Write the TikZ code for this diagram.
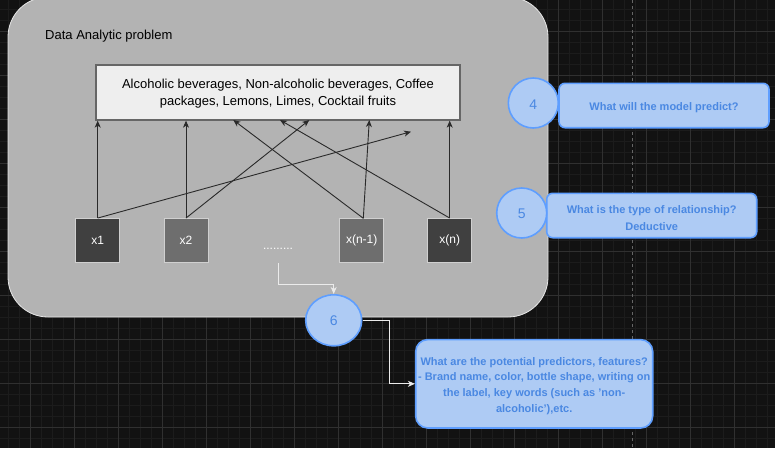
\documentclass[tikz,border=0pt]{standalone}
\usepackage{fontspec}
\setmainfont{Liberation Sans}
\usetikzlibrary{arrows.meta,shapes.geometric}
\definecolor{bgc}{HTML}{121212}
\definecolor{minorc}{HTML}{1C1C1C}
\definecolor{majorc}{HTML}{303030}
\definecolor{contfill}{HTML}{B3B3B3}
\definecolor{contline}{HTML}{E6E6E6}
\definecolor{boxfill}{HTML}{EEEEEE}
\definecolor{boxline}{HTML}{666666}
\definecolor{darkin}{HTML}{404040}
\definecolor{midin}{HTML}{6E6E6E}
\definecolor{inline}{HTML}{D0D0D0}
\definecolor{bluefill}{HTML}{AECBF4}
\definecolor{blueline}{HTML}{5E9EFF}
\definecolor{bluetext}{HTML}{4A88E2}
\definecolor{arrowc}{HTML}{2A2A2A}
\newcommand{\topstrut}[1]{\rule{0pt}{#1}}
\begin{document}
\begin{tikzpicture}[x=1pt,y=-1pt,
  minorline/.style={draw=minorc,line width=0.8pt},
  majorline/.style={draw=majorc,line width=0.9pt},
  container/.style={draw=contline,fill=contfill,line width=0.8pt,rounded corners=40pt,inner sep=0pt},
  titletext/.style={font=\fontsize{13pt}{15pt}\selectfont,text=black,inner sep=0pt},
  targetbox/.style={draw=boxline,fill=boxfill,line width=1.3pt,inner sep=0pt,align=center,
    font=\fontsize{13pt}{17pt}\selectfont,text=black},
  inbox/.style={draw=inline,line width=0.9pt,minimum width=44pt,minimum height=44pt,inner sep=0pt,
    text=white,font=\fontsize{12pt}{14pt}\selectfont},
  link/.style={draw=arrowc,line width=0.9pt,-{Stealth[length=7pt,width=6pt,inset=2pt]}},
  wlink/.style={draw=white!92!black,line width=1pt,-{Stealth[length=7pt,width=6pt,inset=2pt]}},
  numc/.style={draw=blueline,fill=bluefill,line width=1.6pt,inner sep=0pt,text=bluetext,
    font=\fontsize{14pt}{16pt}\selectfont},
  qbox/.style={draw=blueline,fill=bluefill,line width=1.6pt,rounded corners=6pt,inner sep=0pt,
    align=center,text=bluetext,font=\bfseries\fontsize{11pt}{16.6pt}\selectfont}
]
\useasboundingbox (0,0) rectangle (775,448);
\fill[bgc] (0,0) rectangle (775,448);
% grid
\foreach \i in {-1,...,70} {\draw[minorline] ({8.7+11*\i},0) -- ({8.7+11*\i},448);}
\foreach \j in {-1,...,40} {\draw[minorline] (0,{9+11*\j}) -- (775,{9+11*\j});}
\foreach \i in {0,...,16} {\draw[majorline] ({30.7+44*\i},0) -- ({30.7+44*\i},448);}
\foreach \j in {0,...,9} {\draw[majorline] (0,{31+44*\j}) -- (775,{31+44*\j});}
\draw[draw=white!40!black,line width=0.8pt,dash pattern=on 3pt off 3pt] (632.7,0) -- (632.7,448);

% container
\node[container,minimum width=540pt,minimum height=320pt] (cont) at (278,157) {};
\node[titletext,anchor=west] (title) at (45,36.5) {Data Analytic problem};

% target box
\node[targetbox,minimum width=364pt,minimum height=55pt] (target) at (278,92.5)
  {\topstrut{12.5pt}Alcoholic beverages, Non-alcoholic beverages, Coffee\\packages, Lemons, Limes, Cocktail fruits};

% inputs
\node[inbox,fill=darkin] (x1) at (97.7,240.5) {x1};
\node[inbox,fill=midin] (x2) at (186,240.5) {x2};
\node[inbox,fill=midin] (xn1) at (361.7,240.5) {x(n-1)};
\node[inbox,fill=darkin] (xn) at (449.7,240.5) {x(n)};
\node[anchor=base,inner sep=0pt,text=white,font=\fontsize{12pt}{14pt}\selectfont] (dots) at (278,249) {.........};

% target points
\coordinate (t1) at (411,131.7);
\coordinate (t2) at (309.3,120);
\coordinate (t3) at (233.3,120);
\coordinate (t4) at (369.3,120);
\coordinate (t5) at (280,120);
\coordinate (xs) at (363.3,218.3);

\draw[link] (x1.north) -- (x1.north |- target.south);
\draw[link] (x1.north) -- (t1);
\draw[link] (x2.north) -- (x2.north |- target.south);
\draw[link] (x2.north) -- (t2);
\draw[link] (xs) -- (t3);
\draw[link] (xs) -- (t4);
\draw[link] (xn.north) -- (xn.north |- target.south);
\draw[link] (xn.north) -- (t5);

% question boxes
\node[qbox,minimum width=210pt,minimum height=44.4pt] (b4) at (664,105.5) {\topstrut{13pt}What will the model predict?};
\node[qbox,minimum width=210pt,minimum height=44.4pt] (b5) at (651.7,215.5) {\topstrut{13pt}What is the type of relationship?\\Deductive};
\node[qbox,rounded corners=12pt,minimum width=237pt,minimum height=88.4pt,font=\bfseries\fontsize{11pt}{15.6pt}\selectfont] (b6) at (534.2,383.8)
  {\topstrut{12pt}What are the potential predictors, features?\\- Brand name, color, bottle shape, writing on\\the label, key words (such as 'non-\\alcoholic'),etc.};

\node[numc,circle,minimum size=50pt] (c4) at (533.3,103) {\topstrut{12pt}4};
\node[numc,circle,minimum size=50pt] (c5) at (521.7,213) {\topstrut{12pt}5};
\node[numc,ellipse,minimum width=56pt,minimum height=51pt] (c6) at (333.7,320.3) {6};

% white connectors
\coordinate (dstart) at (278.3,263.3);
\draw[wlink] (dstart) -- (278.3,284.3) -| (c6.north);
\draw[wlink] (c6.east) -- (389.3,320.3) |- (b6.west);
\end{tikzpicture}
\end{document}
